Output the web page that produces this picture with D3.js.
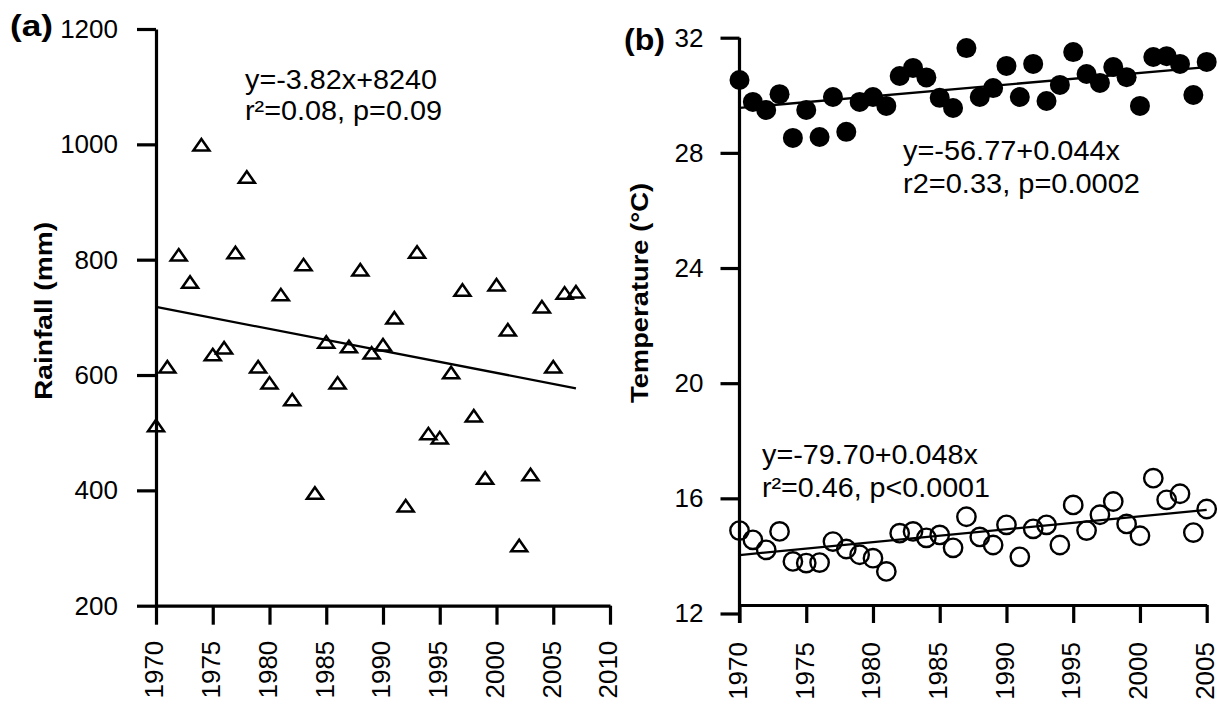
<!DOCTYPE html>
<html><head><meta charset="utf-8">
<script src="https://d3js.org/d3.v7.min.js"></script>
<style>
body{margin:0;background:#fff;}
text{font-family:"Liberation Sans",Arial,sans-serif;fill:#000;}
</style></head>
<body>
<svg id="chart" width="1219" height="706"></svg>
<script>
// ---- data ----
const yearsA = [1970,1971,1972,1973,1974,1975,1976,1977,1978,1979,1980,1981,1982,1983,1984,1985,1986,1987,1988,1989,1990,1991,1992,1993,1994,1995,1996,1997,1998,1999,2000,2001,2002,2003,2004,2005,2006,2007];
const rainfall = [512,614,808,761,999,635,647,812,943,614,586,739,557,791,395,657,586,649,782,638,652,699,373,813,498,491,604,747,529,421,756,678,304,427,718,614,742,744];
const yearsB = [1970,1971,1972,1973,1974,1975,1976,1977,1978,1979,1980,1981,1982,1983,1984,1985,1986,1987,1988,1989,1990,1991,1992,1993,1994,1995,1996,1997,1998,1999,2000,2001,2002,2003,2004,2005];
const tmax = [30.53,29.77,29.49,30.04,28.52,29.49,28.55,29.94,28.73,29.77,29.94,29.63,30.67,30.95,30.62,29.91,29.56,31.64,29.94,30.25,31.02,29.94,31.09,29.80,30.36,31.50,30.74,30.43,30.98,30.63,29.63,31.33,31.36,31.09,30.01,31.16];
const tmin = [14.88,14.56,14.21,14.85,13.81,13.75,13.77,14.50,14.24,14.04,13.92,13.46,14.79,14.85,14.63,14.73,14.28,15.36,14.66,14.38,15.08,13.97,14.94,15.08,14.38,15.77,14.88,15.43,15.89,15.11,14.70,16.70,15.95,16.16,14.81,15.63];
const trendA = [[1970,718],[2007,577]];
const trendMax = [[1970,29.56],[2005,30.98]];
const trendMin = [[1970,14.03],[2005,15.60]];
const ticksAy = [200,400,600,800,1000,1200];
const ticksAx = [1970,1975,1980,1985,1990,1995,2000,2005,2010];
const ticksBy = [12,16,20,24,28,32];
const ticksBx = [1970,1975,1980,1985,1990,1995,2000,2005];
const annA = ["y=-3.82x+8240","r\u00b2=0.08, p=0.09"];
const annMax = ["y=-56.77+0.044x","r2=0.33, p=0.0002"];
const annMin = ["y=-79.70+0.048x","r\u00b2=0.46, p<0.0001"];

const svg = d3.select("#chart");

// ---- scales ----
const xA = d3.scaleLinear().domain([1970,2010]).range([156,610]);
const yA = d3.scaleLinear().domain([200,1200]).range([605.7,29]);
const xB = d3.scaleLinear().domain([1970,2005]).range([739.5,1206.7]);
const yB = d3.scaleLinear().domain([12,32]).range([613.5,37.7]);
const xAxisYB = 605;

function styleAxis(g){
  g.selectAll("path.domain").attr("stroke","#000").attr("stroke-width",3.2);
  g.selectAll(".tick line").attr("stroke","#000").attr("stroke-width",3.2);
  g.selectAll("text").attr("font-size",26).attr("fill","#000")
    .style("font-family","'Liberation Sans',Arial,sans-serif");
}
function rotateX(g, off){
  g.selectAll(".tick text")
    .attr("transform","rotate(-90)")
    .attr("text-anchor","end")
    .attr("x",-off).attr("y",0).attr("dy","0.26em");
}

// ---- panel a ----
const gAy = svg.append("g").attr("transform",`translate(${xA(1970)},0)`)
  .call(d3.axisLeft(yA).tickValues(ticksAy).tickFormat(d3.format("d")).tickSize(19).tickSizeOuter(0).tickPadding(19));
styleAxis(gAy);
const gAx = svg.append("g").attr("transform",`translate(0,${yA(200)})`)
  .call(d3.axisBottom(xA).tickValues(ticksAx).tickFormat(d3.format("d")).tickSize(19).tickSizeOuter(0));
styleAxis(gAx); rotateX(gAx, 35);

svg.append("g").selectAll("path").data(yearsA).join("path")
  .attr("transform",(d,i)=>`translate(${xA(d)},${yA(rainfall[i])})`)
  .attr("d","M0,-6L8,5.5L-8,5.5Z")
  .attr("fill","none").attr("stroke","#000").attr("stroke-width",2.5).attr("stroke-linejoin","miter");

svg.append("line")
  .attr("x1",xA(trendA[0][0])).attr("y1",yA(trendA[0][1]))
  .attr("x2",xA(trendA[1][0])).attr("y2",yA(trendA[1][1]))
  .attr("stroke","#000").attr("stroke-width",2.3);

svg.append("text").attr("x",52).attr("y",311).attr("font-size",24).attr("font-weight","bold")
  .attr("text-anchor","middle").attr("transform","rotate(-90,52,311)")
  .attr("textLength",178).attr("lengthAdjust","spacingAndGlyphs").text("Rainfall (mm)");

svg.append("text").attr("x",10).attr("y",36).attr("font-size",29).attr("font-weight","bold")
  .attr("textLength",43).attr("lengthAdjust","spacingAndGlyphs").text("(a)");

svg.append("text").attr("x",245).attr("y",89).attr("font-size",27)
  .attr("textLength",192).attr("lengthAdjust","spacingAndGlyphs").text(annA[0]);
svg.append("text").attr("x",245).attr("y",120).attr("font-size",27)
  .attr("textLength",197).attr("lengthAdjust","spacingAndGlyphs").text(annA[1]);

// ---- panel b ----
const gBy = svg.append("g").attr("transform",`translate(${xB(1970)},0)`)
  .call(d3.axisLeft(yB).tickValues(ticksBy).tickSize(19).tickSizeOuter(0).tickPadding(17));
styleAxis(gBy);
gBy.select("path.domain").attr("d",`M0,${yB(32)}V${xAxisYB+18}`);
const gBx = svg.append("g").attr("transform",`translate(0,${xAxisYB})`)
  .call(d3.axisBottom(xB).tickValues(ticksBx).tickFormat(d3.format("d")).tickSize(18).tickSizeOuter(0));
styleAxis(gBx); rotateX(gBx, 37);

svg.append("line")
  .attr("x1",xB(trendMax[0][0])).attr("y1",yB(trendMax[0][1]))
  .attr("x2",xB(trendMax[1][0])).attr("y2",yB(trendMax[1][1]))
  .attr("stroke","#000").attr("stroke-width",2.3);
svg.append("line")
  .attr("x1",xB(trendMin[0][0])).attr("y1",yB(trendMin[0][1]))
  .attr("x2",xB(trendMin[1][0])).attr("y2",yB(trendMin[1][1]))
  .attr("stroke","#000").attr("stroke-width",2.3);

svg.append("g").selectAll("circle").data(yearsB).join("circle")
  .attr("cx",d=>xB(d)).attr("cy",(d,i)=>yB(tmax[i])).attr("r",10).attr("fill","#000");
svg.append("g").selectAll("circle").data(yearsB).join("circle")
  .attr("cx",d=>xB(d)).attr("cy",(d,i)=>yB(tmin[i])).attr("r",9.2)
  .attr("fill","none").attr("stroke","#000").attr("stroke-width",2.4);

svg.append("text").attr("x",648).attr("y",293).attr("font-size",24).attr("font-weight","bold")
  .attr("text-anchor","middle").attr("transform","rotate(-90,648,293)")
  .attr("textLength",220).attr("lengthAdjust","spacingAndGlyphs").text("Temperature (\u00b0C)");

svg.append("text").attr("x",624).attr("y",50).attr("font-size",29).attr("font-weight","bold")
  .attr("textLength",41).attr("lengthAdjust","spacingAndGlyphs").text("(b)");

svg.append("text").attr("x",903).attr("y",160).attr("font-size",27)
  .attr("textLength",217).attr("lengthAdjust","spacingAndGlyphs").text(annMax[0]);
svg.append("text").attr("x",903).attr("y",193).attr("font-size",27)
  .attr("textLength",237).attr("lengthAdjust","spacingAndGlyphs").text(annMax[1]);
svg.append("text").attr("x",762).attr("y",464).attr("font-size",27)
  .attr("textLength",216).attr("lengthAdjust","spacingAndGlyphs").text(annMin[0]);
svg.append("text").attr("x",762).attr("y",497).attr("font-size",27)
  .attr("textLength",228).attr("lengthAdjust","spacingAndGlyphs").text(annMin[1]);
</script>
</body></html>
